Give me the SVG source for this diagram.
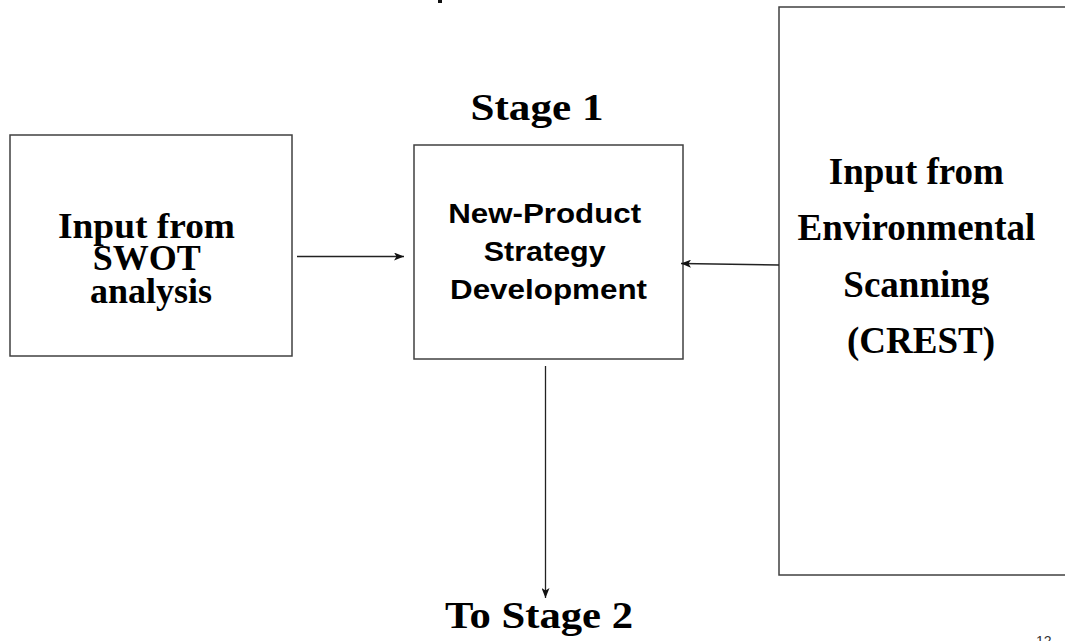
<svg xmlns="http://www.w3.org/2000/svg" width="1065" height="641" viewBox="0 0 1065 641">
  <style>
    .box { fill: #ffffff; stroke: #404040; stroke-width: 1.5; }
    .serif { font-family: "Liberation Serif", "Times New Roman", serif; font-weight: bold; fill: #000000; text-anchor: middle; }
    .sans { font-family: "Liberation Sans", Arial, sans-serif; font-weight: bold; fill: #000000; text-anchor: middle; }
    .link { fill: none; stroke: #222222; stroke-width: 1.3; }
    .page { font-family: "Liberation Sans", Arial, sans-serif; font-size: 14px; fill: #333333; }
  </style>
  <defs>
    <marker id="head" viewBox="0 0 10 8" refX="10" refY="4" markerWidth="10" markerHeight="8" markerUnits="userSpaceOnUse" orient="auto">
      <path d="M0,0 L10,4 L0,8 L2.5,4 Z" fill="#111111"/>
    </marker>
  </defs>
  <rect width="1065" height="641" fill="#ffffff"/>

  <!-- fragment of the slide title above the frame -->
  <rect x="438" y="0" width="4" height="3" fill="#111111"/>

  <!-- stage heading -->
  <text class="serif" x="537" y="120" font-size="38" textLength="133" lengthAdjust="spacingAndGlyphs">Stage 1</text>

  <g id="swot">
    <rect class="box" x="10" y="135" width="282" height="221"/>
    <text class="serif" font-size="36">
      <tspan x="151" y="238" textLength="177" lengthAdjust="spacingAndGlyphs">Input from</tspan>
      <tspan x="151" y="270">SWOT</tspan>
      <tspan x="151" y="303">analysis</tspan>
    </text>
  </g>

  <g id="strategy">
    <rect class="box" x="414" y="145" width="269" height="214"/>
    <text class="sans" font-size="27.5">
      <tspan x="548.5" y="223" textLength="193" lengthAdjust="spacingAndGlyphs">New-Product</tspan>
      <tspan x="548.5" y="261" textLength="122" lengthAdjust="spacingAndGlyphs">Strategy</tspan>
      <tspan x="548.5" y="299" textLength="197" lengthAdjust="spacingAndGlyphs">Development</tspan>
    </text>
  </g>

  <g id="environment">
    <rect class="box" x="779" y="7" width="300" height="568"/>
    <text class="serif" font-size="37">
      <tspan x="921" y="184">Input from</tspan>
      <tspan x="921" y="240">Environmental</tspan>
      <tspan x="921" y="297">Scanning</tspan>
      <tspan x="921" y="353">(CREST)</tspan>
    </text>
  </g>

  <g id="next-stage">
    <text class="serif" x="539" y="628" font-size="38" textLength="188" lengthAdjust="spacingAndGlyphs">To Stage 2</text>
  </g>

  <g id="connectors">
    <line class="link" x1="297" y1="256.5" x2="404" y2="256.5" marker-end="url(#head)"/>
    <line class="link" x1="779" y1="265" x2="681" y2="263.5" marker-end="url(#head)"/>
    <line class="link" x1="545.5" y1="366" x2="545.5" y2="598" marker-end="url(#head)"/>
  </g>

  <!-- slide number, clipped by the bottom edge -->
  <text class="page" x="1036" y="646">12</text>
</svg>
